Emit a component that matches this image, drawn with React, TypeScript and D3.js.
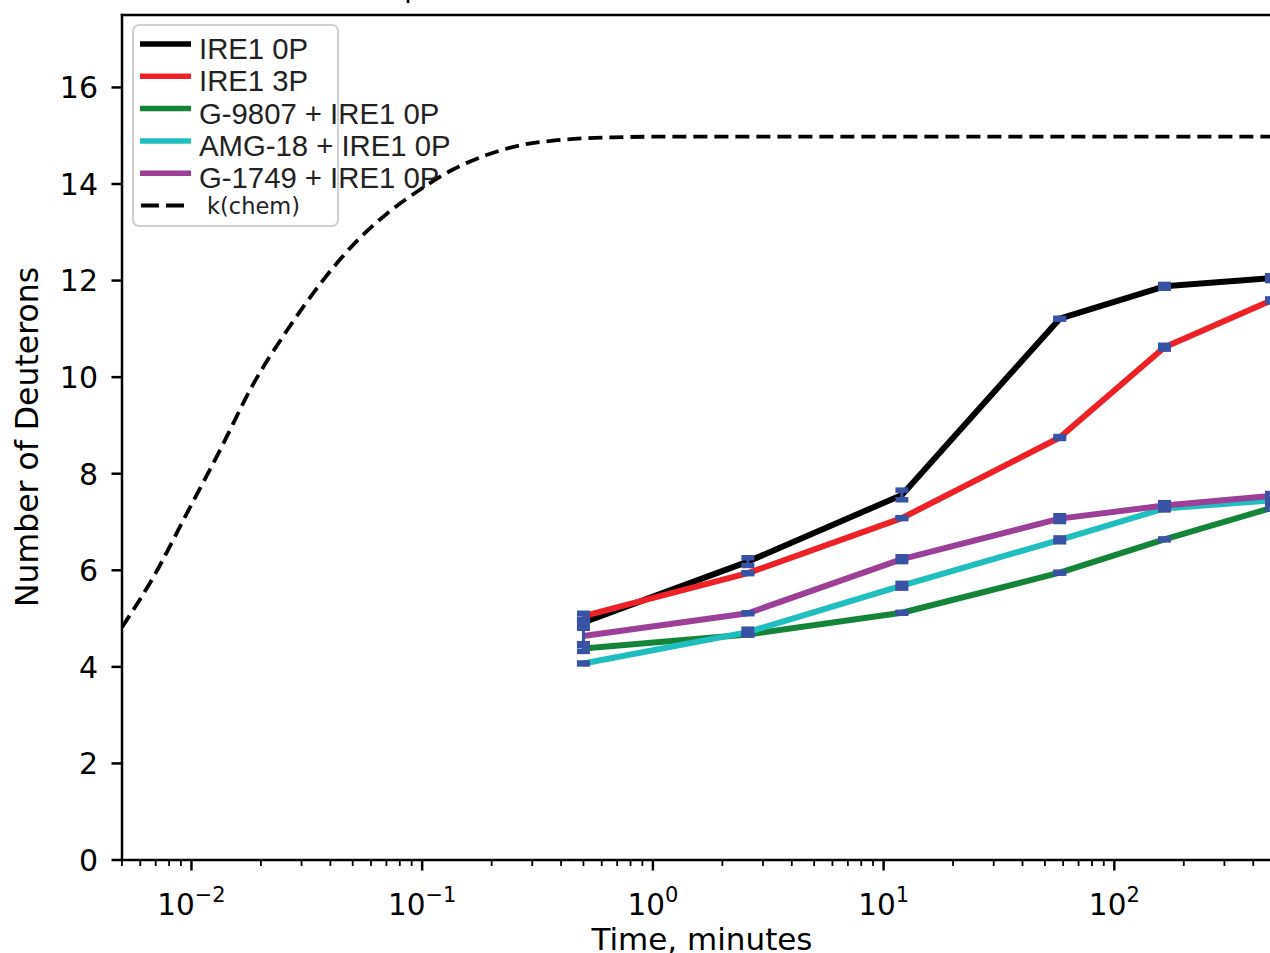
import React from "react";
import * as d3 from "d3";

// ---- data ----
const times = [0.5, 2.58, 12, 58, 165, 480];
const ire1_0P = [4.92, 6.18, 7.56, 11.21, 11.88, 12.05];
const ire1_3P = [5.05, 5.94, 7.08, 8.75, 10.62, 11.59];
const g9807 = [4.38, 4.67, 5.12, 5.95, 6.64, 7.29];
const amg18 = [4.07, 4.72, 5.68, 6.63, 7.28, 7.45];
const g1749 = [4.64, 5.11, 6.23, 7.07, 7.34, 7.54];

const err0P = [0.03, 0.08, 0.1, 0.01, 0.04, 0.05];
const err3P = [0.06, 0.01, 0.01, 0.02, 0.04, 0.03];
const errG9807 = [0.06, 0.01, 0.01, 0.01, 0.01, 0.02];
const errAMG18 = [0.01, 0.06, 0.05, 0.04, 0.03, 0.05];
const errG1749 = [0.16, 0.01, 0.05, 0.06, 0.06, 0.05];

const kchemTimes = [0.005, 0.00682, 0.00953, 0.01327, 0.0185, 0.0258, 0.036, 0.0502, 0.0701, 0.0977, 0.136, 0.19, 0.265, 0.37, 0.516, 0.75, 1, 10, 100, 600];
const kchemValues = [4.82, 5.85, 7.17, 8.48, 9.85, 10.95, 11.92, 12.74, 13.38, 13.88, 14.3, 14.6, 14.8, 14.9, 14.95, 14.97, 14.98, 14.98, 14.98, 14.98];

const seriesNames = ["IRE1 0P", "IRE1 3P", "G-9807 + IRE1 0P", "AMG-18 + IRE1 0P", "G-1749 + IRE1 0P"];
const seriesColors = ["#000000", "#ee2226", "#15843b", "#1fbfc0", "#9c3f98"];
const seriesValues = [ire1_0P, ire1_3P, g9807, amg18, g1749];
const seriesErrors = [err0P, err3P, errG9807, errAMG18, errG1749];
const kchemLabel = "k(chem)";

const yTicks = [0, 2, 4, 6, 8, 10, 12, 14, 16];
const xMajorExps = [-2, -1, 0, 1, 2];

const W = 1270;
const H = 953;
const L = 122, R = 1282, T = 15, B = 860;
const errColor = "#3953a4";

export default function App() {
  const x = d3.scaleLog().domain([0.005, 533]).range([L, R]);
  const y = d3.scaleLinear().domain([0, 17.5]).range([B, T]);

  const line = d3
    .line<[number, number]>()
    .x((d) => x(d[0]))
    .y((d) => y(d[1]));
  const curveLine = d3
    .line<[number, number]>()
    .x((d) => x(d[0]))
    .y((d) => y(d[1]))
    .curve(d3.curveMonotoneX);

  const kchemPts: [number, number][] = kchemTimes.map((t, i) => [t, kchemValues[i]]);

  const minorTicks: number[] = [];
  for (let e = -3; e <= 2; e++) {
    for (let m = 2; m <= 9; m++) {
      const v = m * Math.pow(10, e);
      if (v >= 0.005 && v <= 533) minorTicks.push(v);
    }
  }

  const tickFont = "DejaVu Sans";
  const legendX = 133, legendY = 25, legendW = 205, legendH = 201;
  const rowStep = 32.3;

  return (
    <div style={{ position: "absolute", left: 0, top: 0, width: W, height: H, overflow: "hidden", background: "#fff" }}>
      <svg width={W} height={H} style={{ display: "block" }}>
        <defs>
          <clipPath id="plotClip">
            <rect x={L} y={T} width={R - L} height={B - T} />
          </clipPath>
        </defs>
        <rect x={0} y={0} width={W} height={H} fill="#fff" />

        {/* title fragment (cut off at top) */}
        <text x={404} y={-3} fontFamily={tickFont} fontSize={29} fill="#000">p</text>

        <g clipPath="url(#plotClip)">
          {/* k(chem) curve */}
          <path d={curveLine(kchemPts) || ""} fill="none" stroke="#000" strokeWidth={3.8} strokeDasharray="14,7" />
          {/* series lines */}
          {seriesValues.map((vals, si) => (
            <path
              key={"l" + si}
              d={line(times.map((t, i) => [t, vals[i]] as [number, number])) || ""}
              fill="none"
              stroke={seriesColors[si]}
              strokeWidth={6}
              strokeLinejoin="round"
            />
          ))}
          {/* error bars */}
          {seriesValues.map((vals, si) =>
            times.map((t, i) => {
              const cx = x(t);
              const e = seriesErrors[si][i];
              const y1 = y(vals[i] + e);
              const y2 = y(vals[i] - e);
              return (
                <g key={"e" + si + "-" + i} stroke={errColor}>
                  <line x1={cx} x2={cx} y1={y1} y2={y2} strokeWidth={3} />
                  <line x1={cx - 6.5} x2={cx + 6.5} y1={y1} y2={y1} strokeWidth={5.5} />
                  <line x1={cx - 6.5} x2={cx + 6.5} y1={y2} y2={y2} strokeWidth={5.5} />
                </g>
              );
            })
          )}
        </g>

        {/* spines */}
        <g stroke="#000" strokeWidth={2.5} fill="none">
          <line x1={L} x2={L} y1={T - 1.25} y2={B + 1.25} />
          <line x1={L - 1.25} x2={R} y1={B} y2={B} />
          <line x1={L - 1.25} x2={R} y1={T} y2={T} />
          <line x1={R} x2={R} y1={T} y2={B} />
        </g>

        {/* y ticks */}
        {yTicks.map((v) => (
          <g key={"yt" + v}>
            <line x1={L - 10.5} x2={L} y1={y(v)} y2={y(v)} stroke="#000" strokeWidth={2.5} />
            <text
              x={L - 24}
              y={y(v)}
              dy="0.36em"
              textAnchor="end"
              fontFamily={tickFont}
              fontSize={30}
              fill="#000"
            >
              {v}
            </text>
          </g>
        ))}

        {/* x minor ticks */}
        {minorTicks.map((v, i) => (
          <line key={"xm" + i} x1={x(v)} x2={x(v)} y1={B} y2={B + 6} stroke="#000" strokeWidth={1.8} />
        ))}
        {/* x major ticks */}
        {xMajorExps.map((e) => {
          const v = Math.pow(10, e);
          const label = e < 0 ? "\u2212" + Math.abs(e) : String(e);
          return (
            <g key={"xt" + e}>
              <line x1={x(v)} x2={x(v)} y1={B} y2={B + 10.5} stroke="#000" strokeWidth={2.5} />
              <text x={x(v)} y={915} textAnchor="middle" fontFamily={tickFont} fontSize={29.5} fill="#000">
                <tspan>10</tspan>
                <tspan dy={-13} fontSize={21}>{label}</tspan>
              </text>
            </g>
          );
        })}

        {/* axis labels */}
        <text x={702} y={950} textAnchor="middle" fontFamily={tickFont} fontSize={31} fill="#000">
          Time, minutes
        </text>
        <text
          transform={`translate(38,437) rotate(-90)`}
          textAnchor="middle"
          fontFamily={tickFont}
          fontSize={31.5}
          fill="#000"
        >
          Number of Deuterons
        </text>

        {/* legend */}
        <rect
          x={legendX}
          y={legendY}
          width={legendW}
          height={legendH}
          rx={6}
          fill="#fff"
          fillOpacity={0.8}
          stroke="#cfcfcf"
          strokeWidth={2}
        />
        {seriesNames.map((name, i) => {
          const ly = 44 + i * rowStep;
          return (
            <g key={"lg" + i}>
              <line x1={140} x2={191} y1={ly} y2={ly} stroke={seriesColors[i]} strokeWidth={5.5} />
              <text x={199} y={ly + 15} fontFamily="Liberation Sans" fontSize={29.3} fill="#222">
                {name}
              </text>
            </g>
          );
        })}
        <line
          x1={141}
          x2={191}
          y1={44 + 5 * rowStep}
          y2={44 + 5 * rowStep}
          stroke="#000"
          strokeWidth={3.8}
          strokeDasharray="18,7"
        />
        <text x={207} y={44 + 5 * rowStep + 8} fontFamily={tickFont} fontSize={22.5} fill="#222">
          {kchemLabel}
        </text>
      </svg>
    </div>
  );
}
